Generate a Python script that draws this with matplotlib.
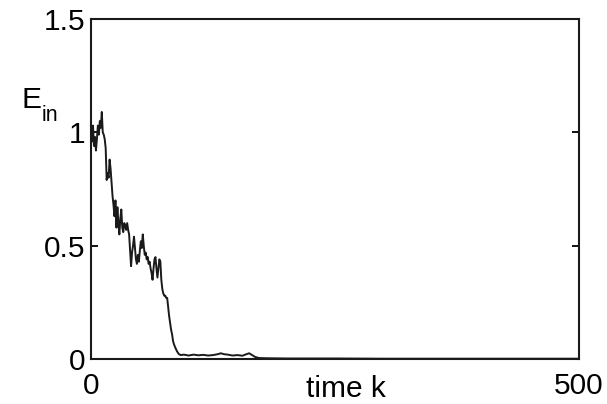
import numpy as np
import matplotlib
matplotlib.use('Agg')
import matplotlib.pyplot as plt

plt.rcParams['font.family'] = ['Liberation Sans', 'DejaVu Sans']

# values
k = [0, 1, 2, 3, 4, 5, 6, 7, 8, 9, 10, 11, 12, 13, 14, 15, 16, 17, 18, 19,
     20, 21, 22, 23, 24, 25, 26, 27, 28, 29, 30, 31, 32, 33, 34, 35, 36, 37,
     38, 39, 40, 41, 42, 43, 44, 45, 46, 47, 48, 49, 50, 51, 52, 53, 54, 55,
     56, 57, 58, 59, 60, 61, 62, 63, 64, 65, 66, 67, 68, 69, 70, 71, 72, 73,
     74, 75, 76, 77, 78, 79, 80, 81, 82, 83, 84, 85, 86, 88, 90, 92, 95,
     100, 105, 110, 115, 120, 125, 130, 133, 136, 140, 145, 150, 155, 158,
     162, 165, 168, 172, 180, 200, 250, 300, 350, 400, 450, 500]
E = [1.01, 0.96, 1.03, 0.94, 0.98, 0.92, 0.97, 1.03, 0.99, 1.05, 1.02, 1.09,
     1.00, 0.99, 0.97, 0.93, 0.79, 0.82, 0.80, 0.88, 0.84, 0.78, 0.72, 0.68,
     0.63, 0.70, 0.58, 0.67, 0.60, 0.55, 0.62, 0.66, 0.58, 0.56, 0.60, 0.59,
     0.57, 0.60, 0.57, 0.55, 0.48, 0.41, 0.47, 0.50, 0.54, 0.49, 0.44, 0.42,
     0.46, 0.43, 0.48, 0.52, 0.49, 0.55, 0.50, 0.46, 0.47, 0.44, 0.45, 0.42,
     0.43, 0.40, 0.38, 0.35, 0.40, 0.44, 0.45, 0.40, 0.36, 0.40, 0.44, 0.43,
     0.35, 0.31, 0.29, 0.28, 0.28, 0.27, 0.27, 0.23, 0.19, 0.16, 0.13, 0.11,
     0.08, 0.065, 0.054, 0.035, 0.022, 0.018, 0.020, 0.016, 0.020, 0.017,
     0.019, 0.016, 0.018, 0.022, 0.026, 0.022, 0.020, 0.016, 0.018, 0.015,
     0.020, 0.026, 0.018, 0.010, 0.005, 0.004, 0.003, 0.003, 0.002, 0.002,
     0.002, 0.002, 0.002]

xticks = [0, 500]
yticks = [0, 0.5, 1, 1.5]
yticklabels = ['0', '0.5', '1', '1.5']

fig = plt.figure(figsize=(6.07, 4.04), dpi=100)
ax = fig.add_axes([0.150, 0.111, 0.804, 0.842])

ax.plot(k, E, color='#1a1a1a', lw=1.4)

ax.set_xlim(0, 500)
ax.set_ylim(0, 1.5)
ax.set_xticks(xticks)
ax.set_xticklabels(['0', '500'])
ax.set_yticks(yticks)
ax.set_yticklabels(yticklabels)
ax.tick_params(direction='in', length=5, width=1.3, labelsize=21.5,
               right=True, top=True)
ax.tick_params(axis='x', pad=9)
ax.tick_params(axis='y', pad=4)
for s in ax.spines.values():
    s.set_linewidth(1.5)
    s.set_color('#1a1a1a')

# y label: E with subscript "in", placed at the top left like the original
fig.text(21 / 607, 1 - 108 / 404, 'E', fontsize=21.5, ha='left', va='baseline')
fig.text(42 / 607, 1 - 121 / 404, 'in', fontsize=15.5, ha='left', va='baseline')

ax.text(0.523, -0.088, 'time k', transform=ax.transAxes,
        fontsize=21.5, ha='center', va='center')

fig.savefig('out.png', dpi=100)
